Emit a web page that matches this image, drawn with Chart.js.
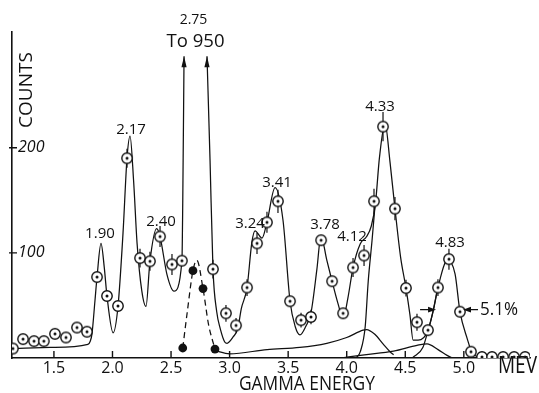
<!DOCTYPE html>
<html lang="en">
<head>
<meta charset="UTF-8">
<title>Gamma energy spectrum</title>
<script src="https://cdn.jsdelivr.net/npm/chart.js"></script>
<style>
  html, body { margin: 0; padding: 0; background: #fff; }
  canvas { display: block; }
</style>
</head>
<body>
<canvas id="spectrum" width="539" height="393"></canvas>
<script>
// measured counts (open circles), energy in MeV
const energies = [1.150, 1.236, 1.330, 1.414, 1.509, 1.603, 1.697, 1.782, 1.868, 1.953,
                  2.047, 2.124, 2.235, 2.320, 2.406, 2.508, 2.593, 2.858, 2.969, 3.055,
                  3.149, 3.234, 3.319, 3.413, 3.516, 3.610, 3.695, 3.781, 3.875, 3.969,
                  4.054, 4.148, 4.233, 4.310, 4.412, 4.506, 4.600, 4.694, 4.779, 4.873,
                  4.967, 5.061, 5.155, 5.241, 5.335, 5.429, 5.523];
const counts = [9, 18, 16, 16, 23, 19.5, 29, 25, 77, 59,
                49.5, 190, 95, 92, 115.5, 89, 92.5, 84.5, 42.5, 31,
                67, 109, 129, 149, 54, 36, 39, 112, 73, 42.5,
                86, 97.5, 149, 220, 142, 66.5, 34, 26.5, 67, 94,
                44, 6, 1, 1, 1, 1, 1];
// statistical error marks (0 = none drawn)
const countErrors = [0, 0, 0, 0, 0, 0, 0, 0, 0, 0,
                     0, 9, 9, 9, 10, 10, 0, 9, 8, 7,
                     8, 10, 10, 11, 0, 7, 7, 0, 0, 0,
                     9, 10, 12, 14, 11, 8, 8, 0, 8, 10,
                     0, 0, 0, 0, 0, 0, 0];

// solid points under the 2.75 line
const solidEnergies = [2.600, 2.687, 2.773, 2.875];
const solidCounts = [9.5, 83, 66, 8.5];

// fitted curve; null where it runs off scale (to 950)
const fitEnergies = [1.15, 1.47, 1.79, 1.81, 1.825, 1.85, 1.868, 1.902, 1.93, 1.953,
                     2.005, 2.047, 2.09, 2.124, 2.15, 2.18, 2.21, 2.25, 2.286, 2.32,
                     2.377, 2.406, 2.466, 2.525, 2.593, 2.60, 2.611, 2.70, 2.807, 2.833,
                     2.858, 2.89, 2.92, 2.96, 2.978, 3.03, 3.07, 3.10, 3.149, 3.19,
                     3.217, 3.277, 3.319, 3.388, 3.456, 3.516, 3.56, 3.601, 3.65, 3.695,
                     3.745, 3.78, 3.83, 3.875, 3.925, 3.97, 4.01, 4.054, 4.115, 4.17,
                     4.21, 4.245, 4.28, 4.327, 4.37, 4.412, 4.46, 4.506, 4.54, 4.567,
                     4.61, 4.694, 4.74, 4.779, 4.86, 4.925, 4.967, 5.03, 5.07, 5.12];
const fitCounts = [9, 10, 13, 16, 23, 54, 77, 109, 86, 59,
                   24, 49, 119, 190, 211, 169, 109, 64, 49, 92,
                   123, 115.5, 79, 63.5, 92.5, 148, 287, null, 287, 188,
                   85, 44, 28, 15, 14, 20, 28, 47, 67, 110,
                   121, 114, 129, 162, 131, 54, 30, 22, 30, 43,
                   84, 116, 93, 73, 52, 38, 57, 86, 108.5, 115.5,
                   125.5, 146.5, 191, 223, 186, 142, 96, 66.5, 41, 17,
                   17, 26, 46, 67, 93, 80, 44, 18, 5, 1];

// dashed curve through the solid points
const dashEnergies = [2.60, 2.64, 2.687, 2.72, 2.773, 2.82, 2.875];
const dashCounts = [9.5, 45, 83, 93, 66, 32, 8.5];

// 4.33 line shape: rising flank and its low-energy tail
const g433Energies = [4.045, 4.09, 4.116, 4.158, 4.184, 4.216, 4.241];
const g433Counts = [0, 1.2, 6, 30, 73.5, 111.5, 144];
const tail433Energies = [2.875, 3.0, 3.32, 3.60, 3.83, 4.00, 4.14, 4.17, 4.24, 4.31, 4.37, 4.40];
const tail433Counts = [7, 4, 8, 10, 14, 19.5, 26.5, 27, 22.5, 13.5, 6, 3];

// 4.83 line shape: rising flank and its tail
const g483Energies = [4.565, 4.65, 4.69, 4.738, 4.772];
const g483Counts = [0.5, 10, 24.5, 44.5, 63.5];
const tail483Energies = [3.95, 4.15, 4.40, 4.60, 4.686, 4.78, 4.857, 4.90];
const tail483Counts = [0, 3, 6.5, 12, 13.5, 8, 2.5, 0];

// axis ticks
const xTicks = [1.5, 2.0, 2.5, 3.0, 3.5, 4.0, 4.5, 5.0];
const yTicks = [100, 200];

// peak annotations
const peakNames = ['1.90', '2.17', '2.40', '3.24', '3.41', '3.78', '4.12', '4.33', '4.83'];
const peakLabelEnergies = [1.893, 2.158, 2.414, 3.174, 3.405, 3.815, 4.045, 4.284, 4.882];
const peakLabelCounts = [118, 217, 130, 128, 167, 127, 115, 239, 110];

// off-scale line at 2.75
const offScaleEnergies = [2.611, 2.807];
const offScaleTop = 287;
const offScaleName = '2.75';
const offScaleNote = 'To 950';

// resolution of the 4.83 line
const fwhmEnergies = [4.763, 4.993];
const fwhmLevel = 46;
const fwhmText = '5.1%';

const ink = '#111';
const family = '"Open Sans", "Liberation Sans", sans-serif';

function pts(xs, ys) {
    return xs.map((e, i) => ({ x: e, y: ys[i] }));
}

// open circle with a dot in the middle
function dottedCircle() {
    const c = document.createElement('canvas');
    c.width = 14; c.height = 14;
    const g = c.getContext('2d');
    g.fillStyle = '#fff';
    g.strokeStyle = ink;
    g.lineWidth = 1.4;
    g.beginPath(); g.arc(7, 7, 5.2, 0, Math.PI * 2); g.fill(); g.stroke();
    g.fillStyle = ink;
    g.beginPath(); g.arc(7, 7, 1.5, 0, Math.PI * 2); g.fill();
    return c;
}

function curve(data, extra) {
    return Object.assign({
        data: data,
        borderColor: ink,
        borderWidth: 1.25,
        pointRadius: 0,
        fill: false,
        cubicInterpolationMode: 'monotone'
    }, extra || {});
}

function arrowHead(ctx, x, y, dx, dy, len, half) {
    // tip at (x, y), pointing along (dx, dy)
    const nx = -dy, ny = dx;
    ctx.beginPath();
    ctx.moveTo(x, y);
    ctx.lineTo(x - dx * len + nx * half, y - dy * len + ny * half);
    ctx.lineTo(x - dx * len - nx * half, y - dy * len - ny * half);
    ctx.closePath();
    ctx.fill();
}

// hand lettering is narrow and tall: squeeze text to a given width
function narrowText(ctx, text, cx, cy, size, width, align) {
    ctx.save();
    ctx.font = size + 'px ' + family;
    const w = ctx.measureText(text).width;
    const k = Math.min(1, width / w);
    ctx.translate(cx, cy);
    ctx.scale(k, 1);
    ctx.textAlign = align || 'center';
    ctx.textBaseline = 'middle';
    ctx.fillText(text, 0, 0);
    ctx.restore();
}

const errorMarks = {
    id: 'errorMarks',
    beforeDatasetsDraw(chart) {
        const { ctx, scales: { x, y } } = chart;
        ctx.save();
        ctx.strokeStyle = ink;
        ctx.lineWidth = 1.2;
        ctx.beginPath();
        energies.forEach((e, i) => {
            if (!countErrors[i]) return;
            const px = x.getPixelForValue(e);
            ctx.moveTo(px, y.getPixelForValue(counts[i] + countErrors[i]));
            ctx.lineTo(px, y.getPixelForValue(counts[i] - countErrors[i]));
        });
        ctx.stroke();
        ctx.restore();
    }
};

const decorations = {
    id: 'decorations',
    afterDraw(chart) {
        const { ctx, chartArea: area, scales: { x, y } } = chart;
        ctx.save();
        ctx.strokeStyle = ink;
        ctx.fillStyle = ink;
        ctx.lineWidth = 1.4;

        // ticks: x marks point up into the plot, y marks cross the axis
        ctx.beginPath();
        xTicks.forEach(v => {
            const px = x.getPixelForValue(v);
            ctx.moveTo(px, area.bottom);
            ctx.lineTo(px, area.bottom - 7);
        });
        yTicks.forEach(v => {
            const py = y.getPixelForValue(v);
            ctx.moveTo(area.left - 3, py);
            ctx.lineTo(area.left + 5, py);
        });
        ctx.stroke();

        // arrowheads where the 2.75 line leaves the scale
        offScaleEnergies.forEach(e => {
            arrowHead(ctx, x.getPixelForValue(e), y.getPixelForValue(offScaleTop), 0, -1, 11, 2.6);
        });

        // width arrows on the 4.83 line
        const fy = y.getPixelForValue(fwhmLevel);
        const fl = x.getPixelForValue(fwhmEnergies[0]);
        const fr = x.getPixelForValue(fwhmEnergies[1]);
        ctx.lineWidth = 1.2;
        ctx.beginPath();
        ctx.moveTo(fl - 16, fy); ctx.lineTo(fl - 4, fy);
        ctx.moveTo(fr + 15, fy); ctx.lineTo(fr + 4, fy);
        ctx.stroke();
        arrowHead(ctx, fl, fy, 1, 0, 8, 2.8);
        arrowHead(ctx, fr, fy, -1, 0, 8, 2.8);
        narrowText(ctx, fwhmText, fr + 17, fy, 19, 38, 'left');

        // peak energies
        peakNames.forEach((name, i) => {
            narrowText(ctx, name, x.getPixelForValue(peakLabelEnergies[i]),
                       y.getPixelForValue(peakLabelCounts[i]), 15, 30);
        });
        const mid = (offScaleEnergies[0] + offScaleEnergies[1]) / 2;
        narrowText(ctx, offScaleName, x.getPixelForValue(mid) - 2, area.top - 12, 14, 28);
        narrowText(ctx, offScaleNote, x.getPixelForValue(mid), area.top + 10, 19, 58);

        // axis names
        narrowText(ctx, 'GAMMA ENERGY', x.getPixelForValue(3.66), area.bottom + 26, 20, 136);
        narrowText(ctx, 'MEV', chart.width - 2, area.bottom + 8, 23, 39, 'right');

        ctx.translate(area.left + 15, area.top + 58);
        ctx.rotate(-Math.PI / 2);
        narrowText(ctx, 'COUNTS', 0, 0, 19, 78);
        ctx.restore();
    }
};

new Chart(document.getElementById('spectrum'), {
    type: 'line',
    data: {
        datasets: [
            {
                data: pts(energies, counts),
                showLine: false,
                pointStyle: dottedCircle(),
                pointRadius: 6
            },
            {
                data: pts(solidEnergies, solidCounts),
                showLine: false,
                pointStyle: 'circle',
                pointRadius: 4.4,
                pointBackgroundColor: ink,
                pointBorderColor: ink,
                pointBorderWidth: 0
            },
            curve(pts(fitEnergies, fitCounts), { spanGaps: false }),
            curve(pts(dashEnergies, dashCounts), { borderDash: [6, 4] }),
            curve(pts(g433Energies, g433Counts)),
            curve(pts(tail433Energies, tail433Counts)),
            curve(pts(g483Energies, g483Counts)),
            curve(pts(tail483Energies, tail483Counts))
        ]
    },
    options: {
        responsive: false,
        devicePixelRatio: 1,
        animation: false,
        layout: { padding: { top: 32, right: 9, left: 0, bottom: 0 } },
        plugins: { legend: { display: false }, tooltip: { enabled: false } },
        scales: {
            x: {
                type: 'linear',
                min: 1.142,
                max: 5.565,
                afterBuildTicks: s => { s.ticks = xTicks.map(v => ({ value: v })); },
                afterFit: s => { s.height = 35; },
                ticks: {
                    callback: v => v.toFixed(1),
                    color: ink,
                    font: { family: family, size: 16 },
                    padding: 1,
                    maxRotation: 0,
                    autoSkip: false
                },
                grid: { drawOnChartArea: false, drawTicks: false },
                border: { display: true, color: ink, width: 1.6 }
            },
            y: {
                min: 0,
                max: 310,
                afterBuildTicks: s => { s.ticks = yTicks.map(v => ({ value: v })); },
                afterFit: s => { s.width = 12; },
                ticks: {
                    mirror: true,
                    padding: 6,
                    color: ink,
                    font: { family: family, size: 16, style: 'italic' }
                },
                grid: { drawOnChartArea: false, drawTicks: false },
                border: { display: true, color: ink, width: 1.6 }
            }
        }
    },
    plugins: [errorMarks, decorations]
});
</script>
</body>
</html>
